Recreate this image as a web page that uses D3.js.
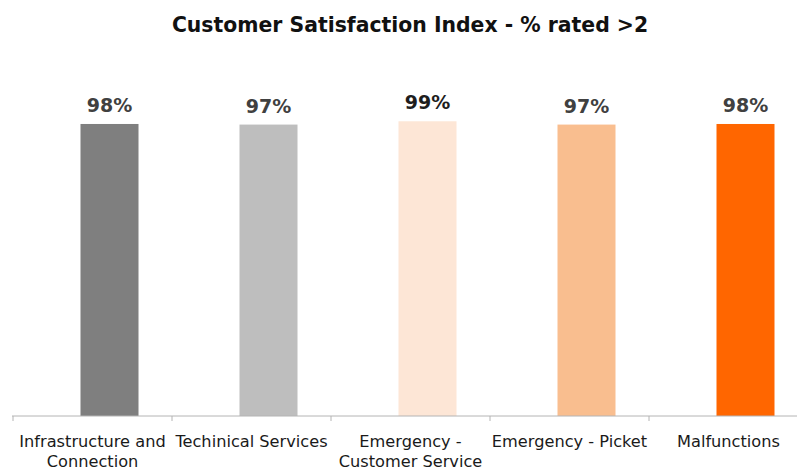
<!DOCTYPE html>
<html><head><meta charset="utf-8">
<script src="https://cdn.jsdelivr.net/npm/d3@7"></script>
<style>body{margin:0;background:#fff;} svg{display:block;}</style>
</head><body>
<script>
const categories = ["Infrastructure and Connection","Techinical Services","Emergency - Customer Service","Emergency - Picket","Malfunctions"];
const categoryLines = [["Infrastructure and","Connection"],["Techinical Services"],["Emergency -","Customer Service"],["Emergency - Picket"],["Malfunctions"]];
const values = [97.6, 97.4, 98.5, 97.4, 97.6];
const valueLabels = ["98%","97%","99%","97%","98%"];
const colors = ["#7f7f7f","#bebebe","#fde6d6","#f9be8f","#ff6600"];
const title = "Customer Satisfaction Index - % rated >2";

const W = 797, H = 472;
const svg = d3.select("body").append("svg").attr("width", W).attr("height", H);

const x = d3.scaleBand().domain(categories).range([13, 808]).paddingInner(0).paddingOuter(0);
const y = d3.scaleLinear().domain([0, 100]).range([416, 116.8]);
const barW = 58, barOffset = 17;

svg.append("text").attr("x", 410).attr("y", 32).attr("text-anchor","middle")
  .style("font-family","DejaVu Sans").style("font-weight","bold").style("font-size","20.4px")
  .attr("fill","#111").text(title);

svg.selectAll("rect.bar").data(values).enter().append("rect")
  .attr("x",(d,i)=>x(categories[i]) + x.bandwidth()/2 + barOffset - barW/2)
  .attr("y",d=>y(d)).attr("width",barW).attr("height",d=>y(0)-y(d))
  .attr("fill",(d,i)=>colors[i]);

svg.selectAll("text.val").data(values).enter().append("text")
  .attr("x",(d,i)=>x(categories[i]) + x.bandwidth()/2 + barOffset)
  .attr("y",d=>y(d)-12).attr("text-anchor","middle")
  .style("font-family","DejaVu Sans").style("font-weight","bold").style("font-size","19px")
  .attr("fill",(d,i)=> i===2 ? "#1e1e1e" : "#404040")
  .text((d,i)=>valueLabels[i]);

const axis = d3.axisBottom(x).tickSize(0).tickFormat("");
const g = svg.append("g").attr("transform","translate(0,416)").call(axis);
g.select(".domain").attr("stroke","#b4b4b4").attr("d","M12,0H797");
const bounds = categories.map(c=>x(c)).concat([x(categories[4])+x.bandwidth()]);
g.selectAll("line.b").data(bounds).enter().append("line")
  .attr("x1",d=>d).attr("x2",d=>d).attr("y1",0).attr("y2",5).attr("stroke","#b4b4b4");

categoryLines.forEach((lines,i)=>{
  const cx = x(categories[i]) + x.bandwidth()/2;
  const t = g.append("text").attr("text-anchor","middle")
    .attr("x", cx).attr("y", 31)
    .style("font-family","DejaVu Sans").style("font-size","16.2px").attr("fill","#1a1a1a");
  lines.forEach((l,j)=>t.append("tspan").attr("x", cx).attr("dy", j===0?0:20).text(l));
});
</script>
</body></html>
